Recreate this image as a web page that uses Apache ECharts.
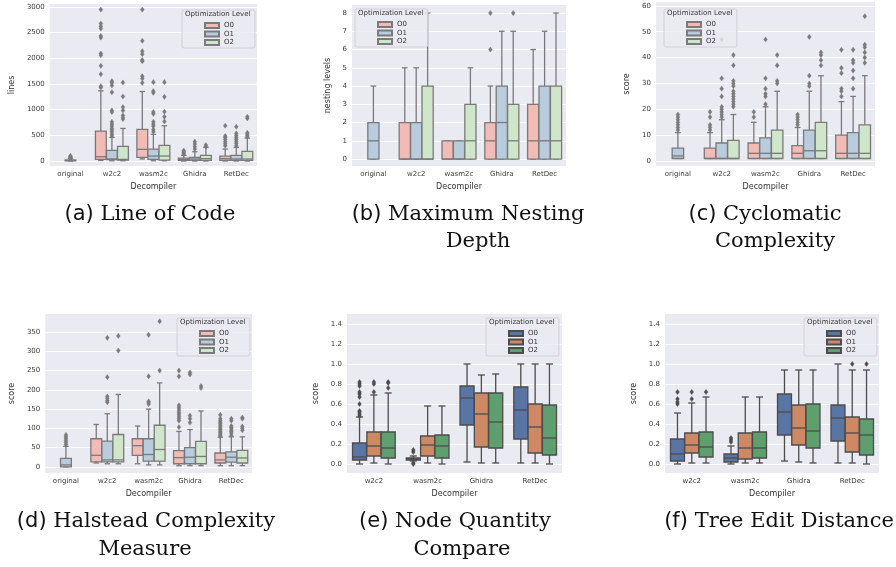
<!DOCTYPE html>
<html><head><meta charset="utf-8">
<script src="https://cdn.jsdelivr.net/npm/echarts@6/dist/echarts.min.js"></script>
<style>
html,body{margin:0;padding:0;background:#fff;width:896px;height:567px;overflow:hidden}
#wrap{position:relative;width:896px;height:567px}
.p{position:absolute}
</style></head><body><div id="wrap"></div>
<script>
// ---------- categories / levels ----------
const levels = ['O0', 'O1', 'O2'];
const decompilers5 = ['original', 'w2c2', 'wasm2c', 'Ghidra', 'RetDec'];
const decompilers4 = ['w2c2', 'wasm2c', 'Ghidra', 'RetDec'];

// ---------- (a) Line of Code: box = [low whisker, Q1, median, Q3, high whisker] ----------
const locO0 = [null, [10, 32, 84, 583, 1367], [40, 71, 227, 616, 1354], [0, 13, 32, 58, 110], [0, 13, 45, 97, 233]];
const locO1 = [[0, 5, 10, 20, 45], [5, 26, 40, 207, 460], [5, 32, 97, 233, 518], [0, 13, 39, 71, 181], [0, 13, 39, 110, 266]];
const locO2 = [null, [5, 20, 32, 285, 635], [5, 19, 97, 305, 687], [0, 13, 45, 110, 266], [0, 13, 39, 188, 447]];
const locOutO0 = [[], [1432, 1458, 1691, 1853, 2061, 2093, 2404, 2437, 2579, 2625, 2677, 2949], [1523, 1607, 1652, 1944, 1964, 2080, 2139, 2340, 2949], [136, 162, 180, 201], [298, 337, 376, 421, 460, 486, 687]];
const locOutO1 = [[50, 60, 70, 80, 90, 97], [493, 525, 570, 603, 635, 680, 720, 765, 953, 985, 1341, 1471, 1523, 1555], [570, 616, 680, 720, 765, 920, 953, 1329, 1361, 1536], [233, 279, 330, 376], [298, 343, 382, 421, 454, 493, 538, 667]];
const locOutO2 = [[], [816, 849, 888, 985, 1050, 1257, 1529], [771, 862, 960, 1251, 1536], [279, 311], [473, 499, 525, 551, 830, 862]];

// ---------- (b) Maximum Nesting Depth ----------
const nestO0 = [null, [0, 0, 0, 2, 5], [0, 0, 0, 1, 1], [0, 0, 1, 2, 4], [0, 0, 1, 3, 6]];
const nestO1 = [[0, 0, 1, 2, 4], [0, 0, 0, 2, 5], [0, 0, 0, 1, 1], [0, 0, 2, 4, 7], [0, 0, 1, 4, 7]];
const nestO2 = [null, [0, 0, 0, 4, 8], [0, 0, 1, 3, 5], [0, 0, 1, 3, 7], [0, 0, 1, 4, 8]];
const nestOutO0 = [[], [], [], [6, 8], []];
const nestOutO1 = [[], [], [], [], []];
const nestOutO2 = [[], [], [], [8], []];

// ---------- (c) Cyclomatic Complexity ----------
const ccO0 = [null, [1, 1, 1, 5, 11], [1, 1, 3, 7, 15], [1, 1, 3, 6, 13], [1, 1, 3, 10, 23]];
const ccO1 = [[1, 1, 2, 5, 11], [1, 1, 1, 7, 16], [1, 1, 3, 9, 21], [1, 1, 4, 12, 27], [1, 1, 3, 11, 25]];
const ccO2 = [null, [1, 1, 1, 8, 18], [1, 1, 3, 12, 27], [1, 1, 4, 15, 33], [1, 1, 3, 14, 33]];
const ccOutO0 = [[], [12, 13, 14, 17, 19], [17, 19], [14, 15, 16, 17, 18], [25, 27, 28, 34, 36, 43]];
const ccOutO1 = [[12, 13, 14, 15, 16, 17, 18], [17, 18, 19, 20, 21, 25, 28, 32, 47], [22, 25, 26, 28, 32, 47], [29, 30, 33, 48], [28, 32, 35, 38, 39, 43]];
const ccOutO2 = [[], [21, 22, 23, 24, 25, 26, 27, 29, 30, 31, 37, 41], [30, 31, 37, 41], [37, 39, 41, 42], [38, 40, 42, 44, 45, 56]];

// ---------- (d) Halstead Complexity Measure ----------
const hcO0 = [null, [10, 13, 30, 73, 110], [8, 30, 55, 73, 106], [3, 8, 24, 42, 92], [3, 10, 18, 36, 77]];
const hcO1 = [[0, 0, 5, 22, 53], [8, 13, 18, 67, 138], [5, 15, 32, 73, 150], [3, 8, 25, 50, 97], [3, 12, 25, 39, 78]];
const hcO2 = [null, [8, 13, 18, 84, 188], [5, 15, 45, 108, 218], [3, 8, 27, 66, 145], [3, 10, 23, 43, 78]];
const hcOutO0 = [[], [], [], [103, 120, 125, 130, 135, 140, 145, 150, 155, 160, 235, 250], [80, 83, 86, 90, 93, 97, 100, 104, 108, 112, 116, 120, 125, 135]];
const hcOutO1 = [[58, 63, 68, 73, 78, 83], [168, 172, 178, 183, 233, 335], [163, 167, 170, 235, 343], [115, 125, 133, 240, 245], [82, 88, 92, 95, 100, 103, 106, 120, 125]];
const hcOutO2 = [[], [302, 340], [250, 378], [205, 210], [95, 100, 105, 125, 128]];

// ---------- (e) Node Quantity Compare ----------
const nqO0 = [[0, 0.04, 0.07, 0.21, 0.47], [0.03, 0.04, 0.05, 0.06, 0.08], [0.02, 0.39, 0.66, 0.78, 1.0], [0.01, 0.25, 0.54, 0.77, 1.0]];
const nqO1 = [[0.01, 0.08, 0.18, 0.32, 0.69], [0.01, 0.08, 0.19, 0.28, 0.58], [0.01, 0.17, 0.50, 0.71, 0.89], [0.01, 0.11, 0.37, 0.60, 1.0]];
const nqO2 = [[0, 0.06, 0.16, 0.32, 0.71], [0, 0.06, 0.18, 0.29, 0.58], [0.01, 0.16, 0.42, 0.71, 0.90], [0, 0.09, 0.26, 0.59, 1.0]];
const nqOutO0 = [[0.48, 0.50, 0.52, 0.53, 0.60, 0.67, 0.70, 0.72, 0.78, 0.80, 0.82], [0.0, 0.01, 0.12, 0.14], [], []];
const nqOutO1 = [[0.72, 0.80, 0.82], [], [], []];
const nqOutO2 = [[0.76, 0.81, 0.82], [], [], []];

// ---------- (f) Tree Edit Distance ----------
const tedO0 = [[0, 0.03, 0.10, 0.25, 0.51], [0, 0.02, 0.06, 0.10, 0.18], [0.03, 0.29, 0.52, 0.70, 0.94], [0.01, 0.23, 0.46, 0.59, 1.0]];
const tedO1 = [[0.01, 0.11, 0.19, 0.31, 0.61], [0.01, 0.05, 0.16, 0.31, 0.67], [0.02, 0.19, 0.36, 0.59, 0.94], [0.01, 0.12, 0.31, 0.47, 0.94]];
const tedO2 = [[0.01, 0.07, 0.17, 0.32, 0.67], [0.01, 0.06, 0.16, 0.32, 0.67], [0.01, 0.16, 0.33, 0.60, 0.94], [0, 0.09, 0.29, 0.45, 0.94]];
const tedOutO0 = [[0.60, 0.62, 0.65, 0.72], [0.22, 0.24, 0.26], [], []];
const tedOutO1 = [[0.65, 0.72], [], [], [1.0]];
const tedOutO2 = [[0.72], [], [], [1.0]];

// ---------- styles ----------
const pastel = { fills: ['#f1bbb6', '#b9ccdd', '#cfe6ca'], stroke: '#7a7a7a' };
const deep = { fills: ['#5875a4', '#cc8963', '#5f9e6e'], stroke: '#4c4c4c' };
const BG = '#eaeaf2';
const TXT = '#3a3a3a';

const panels = [
  { box: { left: 0, top: 0, width: 299, height: 284 }, cats: decompilers5, boxes: [locO0, locO1, locO2], outs: [locOutO0, locOutO1, locOutO2], pal: pastel,
    grid: { left: 42, top: 4, width: 215, height: 162 }, y: { name: 'lines', min: -97, max: 3058, split: 6, gap: 26, dec: 0 },
    legend: { left: 182, top: 10 }, caption: [{ x: 150, y: 215, l: '(a)', t: 'Line of Code' }] },
  { box: { left: 299, top: 0, width: 298, height: 284 }, cats: decompilers5, boxes: [nestO0, nestO1, nestO2], outs: [nestOutO0, nestOutO1, nestOutO2], pal: pastel,
    grid: { left: 53, top: 5, width: 214, height: 161 }, y: { name: 'nesting levels', min: -0.38, max: 8.44, split: 8, gap: 13, dec: 0 },
    legend: { left: 56, top: 9 }, caption: [{ x: 169, y: 215, l: '(b)', t: 'Maximum Nesting' }, { x: 179, y: 242, t: 'Depth' }] },
  { box: { left: 597, top: 0, width: 299, height: 284 }, cats: decompilers5, boxes: [ccO0, ccO1, ccO2], outs: [ccOutO0, ccOutO1, ccOutO2], pal: pastel,
    grid: { left: 59, top: 2, width: 219, height: 164 }, y: { name: 'score', min: -1.9, max: 61.5, split: 6, gap: 13, dec: 0 },
    legend: { left: 67, top: 9 }, caption: [{ x: 168, y: 215, l: '(c)', t: 'Cyclomatic' }, { x: 178, y: 242, t: 'Complexity' }] },
  { box: { left: 0, top: 284, width: 299, height: 283 }, cats: decompilers5, boxes: [hcO0, hcO1, hcO2], outs: [hcOutO0, hcOutO1, hcOutO2], pal: pastel,
    grid: { left: 38, top: 30, width: 214, height: 159 }, y: { name: 'score', min: -16, max: 397, split: 8, gap: 21, dec: 0 },
    legend: { left: 177, top: 34 }, caption: [{ x: 146, y: 238, l: '(d)', t: 'Halstead Complexity' }, { x: 145, y: 266, t: 'Measure' }] },
  { box: { left: 299, top: 284, width: 298, height: 283 }, cats: decompilers4, boxes: [nqO0, nqO1, nqO2], outs: [nqOutO0, nqOutO1, nqOutO2], pal: deep,
    grid: { left: 48, top: 30, width: 215, height: 159 }, y: { name: 'score', min: -0.09, max: 1.5, split: 8, gap: 19, dec: 1 },
    legend: { left: 187, top: 34 }, caption: [{ x: 156, y: 238, l: '(e)', t: 'Node Quantity' }, { x: 163, y: 266, t: 'Compare' }] },
  { box: { left: 597, top: 284, width: 299, height: 283 }, cats: decompilers4, boxes: [tedO0, tedO1, tedO2], outs: [tedOutO0, tedOutO1, tedOutO2], pal: deep,
    grid: { left: 68, top: 30, width: 214, height: 159 }, y: { name: 'score', min: -0.09, max: 1.5, split: 8, gap: 18, dec: 1 },
    legend: { left: 207, top: 34 }, caption: [{ x: 182, y: 238, l: '(f)', t: 'Tree Edit Distance' }] }
];

function boxRenderer(hue, nHue, fill, stroke) {
  return function (params, api) {
    const ci = api.value(0);
    const band = api.size([1, 0])[0];
    const slot = band * 0.8 / nHue;
    const bw = slot * 0.98;
    const cx = api.coord([ci, 0])[0] + (hue - (nHue - 1) / 2) * slot;
    const yy = [1, 2, 3, 4, 5].map(function (d) { return api.coord([ci, api.value(d)])[1]; });
    const half = bw / 2, cap = bw / 4;
    const ls = { stroke: stroke, lineWidth: 1.3 };
    return { type: 'group', children: [
      { type: 'line', shape: { x1: cx, y1: yy[0], x2: cx, y2: yy[1] }, style: ls },
      { type: 'line', shape: { x1: cx, y1: yy[3], x2: cx, y2: yy[4] }, style: ls },
      { type: 'line', shape: { x1: cx - cap, y1: yy[0], x2: cx + cap, y2: yy[0] }, style: ls },
      { type: 'line', shape: { x1: cx - cap, y1: yy[4], x2: cx + cap, y2: yy[4] }, style: ls },
      { type: 'rect', shape: { x: cx - half, y: yy[3], width: bw, height: yy[1] - yy[3] }, style: { fill: fill, stroke: stroke, lineWidth: 1.3 } },
      { type: 'line', shape: { x1: cx - half, y1: yy[2], x2: cx + half, y2: yy[2] }, style: ls }
    ] };
  };
}
function outlierRenderer(hue, nHue, stroke) {
  return function (params, api) {
    const ci = api.value(0);
    const band = api.size([1, 0])[0];
    const slot = band * 0.8 / nHue;
    const p = api.coord([ci, api.value(1)]);
    const cx = p[0] + (hue - (nHue - 1) / 2) * slot;
    return { type: 'polygon', shape: { points: [[cx, p[1] - 2.6], [cx + 1.9, p[1]], [cx, p[1] + 2.6], [cx - 1.9, p[1]]] },
      style: { fill: stroke, stroke: stroke, lineWidth: 0.4 } };
  };
}
function boxData(arr) { const out = []; arr.forEach(function (b, i) { if (b) out.push([i].concat(b)); }); return out; }
function outData(arr) { const out = []; arr.forEach(function (vals, i) { vals.forEach(function (v) { out.push([i, v]); }); }); return out; }

const wrap = document.getElementById('wrap');
panels.forEach(function (P) {
  const el = document.createElement('div');
  el.className = 'p';
  el.style.left = P.box.left + 'px'; el.style.top = P.box.top + 'px';
  el.style.width = P.box.width + 'px'; el.style.height = P.box.height + 'px';
  wrap.appendChild(el);
  const chart = echarts.init(el, null, { renderer: 'canvas' });
  const series = [];
  levels.forEach(function (lv, h) {
    series.push({
      type: 'custom', name: lv, renderItem: boxRenderer(h, 3, P.pal.fills[h], P.pal.stroke),
      data: boxData(P.boxes[h]), encode: { x: 0, y: [1, 2, 3, 4, 5] }, z: 2,
      itemStyle: { color: P.pal.fills[h], borderColor: P.pal.stroke, borderWidth: 0.8 }
    });
  });
  levels.forEach(function (lv, h) {
    series.push({
      type: 'custom', name: lv + ' outliers', renderItem: outlierRenderer(h, 3, P.pal.stroke),
      data: outData(P.outs[h]), encode: { x: 0, y: 1 }, z: 3, silent: true
    });
  });
  const graphics = [];
  P.caption.forEach(function (c) {
    const txt = c.l ? '{l|' + c.l + '}{t| ' + c.t + '}' : '{t|' + c.t + '}';
    graphics.push({ type: 'text', x: c.x, y: c.y, style: {
      text: txt, align: 'center', verticalAlign: 'middle',
      rich: { l: { fontFamily: 'DejaVu Sans', fontSize: 21, fill: '#111' }, t: { fontFamily: 'DejaVu Serif', fontSize: 21, fill: '#111' } }
    } });
  });
  chart.setOption({
    animation: false,
    backgroundColor: '#ffffff',
    textStyle: { fontFamily: 'DejaVu Sans' },
    title: { text: 'Optimization Level', left: P.legend.left + 3, top: P.legend.top + 1, padding: 0,
      textStyle: { fontSize: 7, fontWeight: 'normal', color: '#333', fontFamily: 'DejaVu Sans' } },
    legend: {
      data: levels, orient: 'vertical', left: P.legend.left, top: P.legend.top,
      icon: 'rect', itemWidth: 14, itemHeight: 5, itemGap: 1.5,
      padding: [12, 21, 2, 22],
      backgroundColor: 'rgba(234,234,242,0.8)', borderColor: '#cccccc', borderWidth: 0.8, borderRadius: 2,
      textStyle: { fontSize: 7, color: '#333', padding: [0, 0, 0, 0] }, selectedMode: false
    },
    grid: { left: P.grid.left, top: P.grid.top, width: P.grid.width, height: P.grid.height,
      show: true, backgroundColor: BG, borderWidth: 0 },
    xAxis: {
      type: 'category', data: P.cats, name: 'Decompiler', nameLocation: 'middle', nameGap: 14,
      nameTextStyle: { fontSize: 8, color: '#333' },
      axisLine: { show: false }, axisTick: { show: false },
      axisLabel: { fontSize: 7, color: TXT, margin: 5 }, splitLine: { show: false }
    },
    yAxis: {
      type: 'value', min: P.y.min, max: P.y.max, splitNumber: P.y.split,
      name: P.y.name, nameLocation: 'middle', nameRotate: 90, nameGap: P.y.gap,
      nameTextStyle: { fontSize: 8, color: '#333' },
      axisLine: { show: false }, axisTick: { show: false },
      axisLabel: { fontSize: 7, color: TXT, margin: 5, showMinLabel: false, showMaxLabel: false,
        formatter: function (v) { return v.toFixed(P.y.dec); } },
      splitLine: { show: true, showMinLine: false, showMaxLine: false, lineStyle: { color: '#ffffff', width: 1 } }
    },
    series: series,
    graphic: graphics
  });
});
</script>
</body></html>
